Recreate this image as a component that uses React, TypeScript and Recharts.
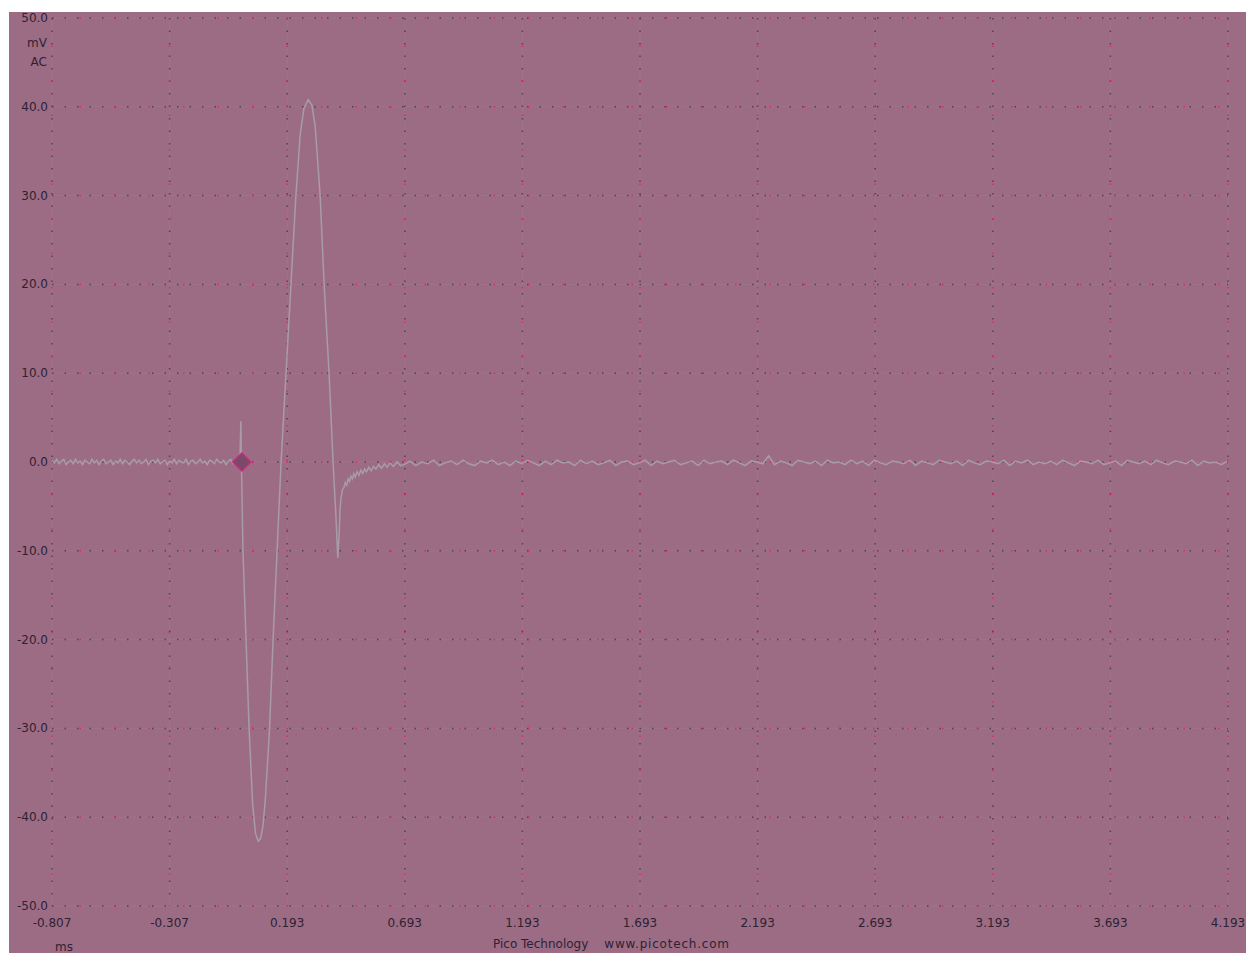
import React from "react";
import { LineChart, Line, XAxis, YAxis, CartesianGrid, ReferenceDot } from "recharts";

// axis ticks (ms / mV)
const xTicks = [-0.807, -0.307, 0.193, 0.693, 1.193, 1.693, 2.193, 2.693, 3.193, 3.693, 4.193];
const yTicks = [-50, -40, -30, -20, -10, 0, 10, 20, 30, 40, 50];

// pre-trigger noise, sampled every 10 us from -0.807 ms
const preTriggerStart = -0.807;
const preTriggerStep = 0.01;
const preTriggerMv = [
  0.2, -0.1, 0.3, -0.2, 0.1, 0.3, -0.3, 0.0, 0.2, -0.2,
  0.3, -0.1, 0.1, -0.3, 0.2, 0.0, -0.2, 0.3, -0.1, 0.2,
  -0.3, 0.1, 0.3, -0.2, 0.0, 0.2, -0.3, 0.1, -0.1, 0.3,
  -0.2, 0.2, 0.0, -0.3, 0.1, 0.3, -0.1, 0.2, -0.2, 0.0,
  0.3, -0.3, 0.1, 0.2, -0.1, 0.3, -0.2, 0.0, 0.2, -0.3,
  0.1, -0.1, 0.3, -0.2, 0.2, 0.0, -0.1, 0.3, -0.3, 0.1,
  0.2, -0.2, 0.0, 0.3, -0.1, 0.1, -0.3, 0.2, 0.1, -0.2,
  0.3, 0.0, -0.1, 0.2, -0.3, 0.1, 0.3, -0.2, 0.1, 0.0,
];

// the pulse itself [ms, mV]
const pulse: [number, number][] = [
  [-0.008, 0.1], [-0.004, 4.6], [-0.002, 0.3], [0.005, -10], [0.018, -20],
  [0.031, -30], [0.046, -38.5], [0.058, -41.8], [0.07, -42.7], [0.08, -42.4],
  [0.09, -41], [0.1, -38], [0.118, -30], [0.133, -20], [0.15, -10],
  [0.167, 0], [0.188, 10], [0.209, 20], [0.23, 30], [0.248, 36.8],
  [0.264, 39.8], [0.282, 40.8], [0.298, 40.2], [0.312, 37.8], [0.333, 30],
  [0.35, 20], [0.371, 10], [0.388, 0], [0.4, -6], [0.408, -10.8],
];

// recovery tail [ms, mV]
const tail: [number, number][] = [
  [0.414, -8.0], [0.418, -5.2], [0.422, -4.0], [0.428, -3.1], [0.434, -2.9],
  [0.44, -2.3], [0.446, -2.6], [0.452, -1.9], [0.458, -2.2], [0.464, -1.6],
  [0.47, -1.9], [0.476, -1.3], [0.482, -1.7], [0.49, -1.1], [0.498, -1.5],
  [0.506, -0.9], [0.514, -1.3], [0.522, -0.8], [0.53, -1.1], [0.54, -0.6],
  [0.55, -1.0], [0.56, -0.5], [0.57, -0.8], [0.582, -0.3], [0.594, -0.7],
  [0.606, -0.2], [0.618, -0.6], [0.63, -0.1], [0.645, -0.5], [0.66, 0.0],
  [0.675, -0.4],
];

// baseline after the pulse, sampled every 25 us from 0.69 ms
const baselineStart = 0.69;
const baselineStep = 0.025;
const baselineMv = [
  -0.3, 0.1, -0.4, 0.0, -0.2, 0.2, -0.4, -0.1, 0.1, -0.3,
  0.2, -0.2, -0.4, 0.1, -0.1, 0.2, -0.3, 0.0, -0.4, 0.1,
  -0.2, 0.2, -0.1, -0.4, 0.1, -0.3, 0.2, -0.1, 0.0, -0.4,
  0.2, -0.2, 0.1, -0.3, -0.1, 0.2, -0.4, 0.0, 0.1, -0.3,
  -0.1, 0.2, -0.4, 0.1, -0.2, 0.0, 0.2, -0.3, -0.1, 0.1,
  -0.4, 0.2, -0.2, 0.0, 0.1, -0.3, 0.2, -0.1, -0.4, 0.1,
  0.0, -0.2, 0.7, -0.3, 0.1, -0.1, -0.4, 0.2, 0.0, -0.2,
  0.1, -0.4, 0.2, -0.1, 0.0, -0.3, 0.2, -0.2, 0.1, -0.4,
  0.2, -0.1, -0.3, 0.1, 0.0, -0.2, 0.2, -0.4, 0.1, -0.1,
  -0.3, 0.2, 0.0, -0.2, 0.1, -0.4, 0.2, -0.1, -0.3, 0.1,
  0.0, -0.2, 0.2, -0.4, 0.1, -0.1, 0.2, -0.3, 0.0, -0.2,
  0.1, -0.3, 0.2, -0.1, -0.4, 0.1, 0.0, -0.2, 0.2, -0.3,
  -0.1, 0.1, -0.4, 0.2, 0.0, -0.2, 0.1, -0.3, 0.2, -0.1,
  -0.3, 0.1, 0.0, -0.2, 0.2, -0.4, 0.1, -0.1, 0.0, -0.3,
  0.1,
];

const trace = [
  ...preTriggerMv.map((mv, i) => ({ t: preTriggerStart + i * preTriggerStep, mv })),
  ...pulse.map(([t, mv]) => ({ t, mv })),
  ...tail.map(([t, mv]) => ({ t, mv })),
  ...baselineMv.map((mv, i) => ({ t: baselineStart + i * baselineStep, mv })),
];

const BG = "#9c6c85";
const TEXT = "#2e2231";
const FONT = "'DejaVu Sans', sans-serif";

const XTick = ({ x, y, payload }: any) => (
  <text x={x} y={y} dy={21} textAnchor="middle" fontSize={12} fontFamily={FONT} fill={TEXT}>
    {payload.value.toFixed(3)}
  </text>
);

const YTick = ({ x, y, payload }: any) => (
  <text x={x} y={y} dy={4} textAnchor="end" fontSize={12} fontFamily={FONT} fill={TEXT}>
    {payload.value.toFixed(1)}
  </text>
);

// trigger marker
const Diamond = ({ cx, cy }: any) => (
  <polygon
    points={`${cx},${cy - 9} ${cx + 9},${cy} ${cx},${cy + 9} ${cx - 9},${cy}`}
    fill="#7b4a67"
    stroke="#c42c7e"
    strokeWidth={1.5}
  />
);

export default function App() {
  return (
    <div
      style={{
        position: "absolute",
        left: 9,
        top: 12,
        width: 1237,
        height: 941,
        background: BG,
        overflow: "hidden",
        fontFamily: FONT,
      }}
    >
      <LineChart width={1237} height={941} data={trace} margin={{ top: 6, right: 18, left: 0, bottom: 0 }}>
        <CartesianGrid stroke="#a2718b" strokeWidth={1} />
        <CartesianGrid stroke="#4f4352" strokeWidth={1.5} strokeDasharray="1.5 11" />
        <CartesianGrid stroke="#e3237f" strokeWidth={1.5} strokeDasharray="1.5 33" strokeDashoffset={7} />
        <XAxis
          dataKey="t"
          type="number"
          domain={[-0.807, 4.193]}
          ticks={xTicks}
          interval={0}
          allowDataOverflow
          axisLine={false}
          tickLine={false}
          tickSize={0}
          tickMargin={0}
          height={47}
          tick={<XTick />}
        />
        <YAxis
          type="number"
          domain={[-50, 50]}
          ticks={yTicks}
          interval={0}
          allowDataOverflow
          axisLine={false}
          tickLine={false}
          tickSize={0}
          tickMargin={4}
          width={43}
          tick={<YTick />}
        />
        <Line
          type="linear"
          dataKey="mv"
          stroke="#a89ca6"
          strokeWidth={1.5}
          dot={false}
          isAnimationActive={false}
        />
        <ReferenceDot x={0} y={0} r={9} shape={<Diamond />} />
      </LineChart>
      <div style={{ position: "absolute", left: 14, top: 24, width: 24, textAlign: "right", fontSize: 12, color: TEXT }}>
        mV
      </div>
      <div style={{ position: "absolute", left: 14, top: 43, width: 24, textAlign: "right", fontSize: 12, color: TEXT }}>
        AC
      </div>
      <div style={{ position: "absolute", left: 46, top: 928, fontSize: 12, color: TEXT }}>ms</div>
      <div style={{ position: "absolute", left: 484, top: 925, fontSize: 12, color: TEXT, whiteSpace: "nowrap" }}>
        Pico Technology
        <span style={{ marginLeft: 16, letterSpacing: 0.8 }}>www.picotech.com</span>
      </div>
    </div>
  );
}
